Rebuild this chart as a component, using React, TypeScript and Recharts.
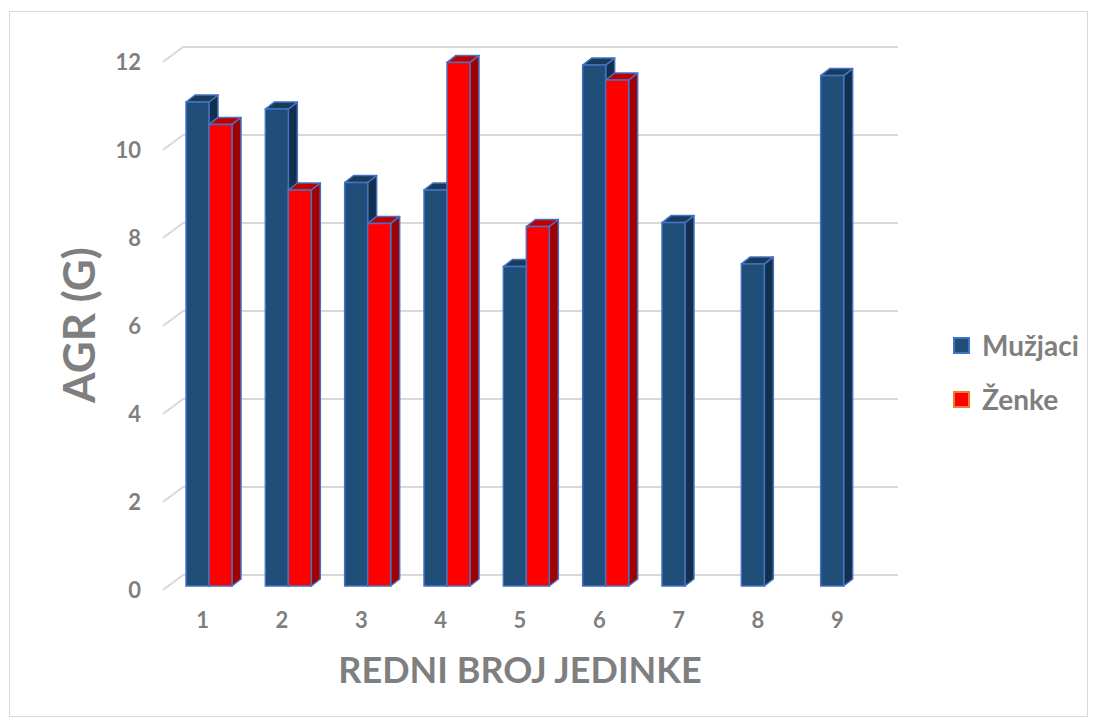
import { BarChart, Bar, XAxis, YAxis, CartesianGrid, Legend } from 'recharts'

const categories = ['1', '2', '3', '4', '5', '6', '7', '8', '9']
const muzjaci = [11.0, 10.84, 9.17, 9.0, 7.26, 11.84, 8.26, 7.32, 11.6]
const zenke: (number | null)[] = [10.49, 9.0, 8.24, 11.9, 8.17, 11.5, null, null, null]
const yTicks = [0, 2, 4, 6, 8, 10, 12]

const data = categories.map((c, i) => ({ name: c, m: muzjaci[i], z: zenke[i] }))

const textGray = '#7f7f7f'
const font = 'Lato, "Open Sans", sans-serif'

// bar faces: front, top, side
const blue = { front: '#1f4e79', top: '#183b5c', side: '#132f4b' }
const red = { front: '#ff0000', top: '#c00000', side: '#a00000' }

const makeBar3D = (c: { front: string; top: string; side: string }) => (props: any) => {
  const { x, y, width, height } = props
  if (height == null || height <= 0) return <g />
  const fx = x + 6
  const fy = y - 4
  const dx = 9
  const dy = 7
  const stroke = '#4472c4'
  return (
    <g>
      <polygon
        points={`${fx + width},${fy} ${fx + width + dx},${fy - dy} ${fx + width + dx},${fy + height - dy} ${fx + width},${fy + height}`}
        fill={c.side}
        stroke={stroke}
        strokeWidth={1.5}
        strokeLinejoin="round"
      />
      <polygon
        points={`${fx},${fy} ${fx + dx},${fy - dy} ${fx + width + dx},${fy - dy} ${fx + width},${fy}`}
        fill={c.top}
        stroke={stroke}
        strokeWidth={1.5}
        strokeLinejoin="round"
      />
      <rect x={fx} y={fy} width={width} height={height} fill={c.front} stroke={stroke} strokeWidth={1.5} />
    </g>
  )
}

const gridLine = (props: any) => {
  const { x1, y1, x2 } = props
  return (
    <path
      key={props.key ?? `g-${y1}`}
      d={`M${x1},${y1} L${x1 + 20},${y1 - 15} L${x2 + 21},${y1 - 15}`}
      stroke="#d9d9d9"
      strokeWidth={2}
      fill="none"
    />
  )
}

const LegendBox = () => {
  const items = [
    { label: 'Mužjaci', fill: blue.front, border: '#4472c4' },
    { label: 'Ženke', fill: '#ff0000', border: '#ed7d31' }
  ]
  return (
    <div style={{ fontFamily: font, fontWeight: 700, fontSize: 28, color: textGray }}>
      {items.map((it) => (
        <div key={it.label} style={{ display: 'flex', alignItems: 'center', height: 54 }}>
          <span
            style={{
              display: 'inline-block',
              width: 17,
              height: 17,
              boxSizing: 'border-box',
              background: it.fill,
              border: `2px solid ${it.border}`,
              marginLeft: 3,
              marginRight: 12
            }}
          />
          <span>{it.label}</span>
        </div>
      ))}
    </div>
  )
}

export default function App() {
  return (
    <div>
      <div
        style={{
          position: 'absolute',
          left: 9,
          top: 11,
          width: 1079,
          height: 706,
          boxSizing: 'border-box',
          border: '1px solid #d9d9d9'
        }}
      />
      <div style={{ position: 'absolute', left: 0, top: 0 }}>
        <BarChart
          width={1097}
          height={726}
          data={data}
          margin={{ top: 62, right: 220, bottom: 106, left: 103 }}
          barGap={0}
          barSize={23}
        >
          <CartesianGrid vertical={false} horizontal={gridLine} />
          <XAxis
            dataKey="name"
            axisLine={false}
            tickLine={false}
            tickSize={0}
            tickMargin={22}
            height={30}
            tick={{ fill: textGray, fontSize: 22, fontWeight: 700, fontFamily: font }}
            label={{
              value: 'REDNI BROJ JEDINKE',
              position: 'bottom',
              offset: 37,
              fill: textGray,
              fontSize: 36,
              fontWeight: 700,
              fontFamily: font
            }}
          />
          <YAxis
            width={60}
            domain={[0, 12]}
            ticks={yTicks}
            axisLine={false}
            tickLine={false}
            tickSize={0}
            tickMargin={22}
            tick={{ fill: textGray, fontSize: 22, fontWeight: 700, fontFamily: font }}
            label={{
              value: 'AGR (G)',
              content: () => (
                <text
                  x={95}
                  y={325}
                  transform="rotate(-90, 95, 325)"
                  textAnchor="middle"
                  fill={textGray}
                  fontSize={44}
                  fontWeight={700}
                  fontFamily={font}
                >
                  AGR (G)
                </text>
              )
            }}
          />
          <Legend
            layout="horizontal"
            align="center"
            verticalAlign="middle"
            wrapperStyle={{ left: 950, top: 318, width: 140 }}
            content={<LegendBox />}
          />
          <Bar dataKey="m" name="Mužjaci" fill={blue.front} shape={makeBar3D(blue)} isAnimationActive={false} />
          <Bar dataKey="z" name="Ženke" fill={red.front} shape={makeBar3D(red)} isAnimationActive={false} />
        </BarChart>
      </div>
    </div>
  )
}
